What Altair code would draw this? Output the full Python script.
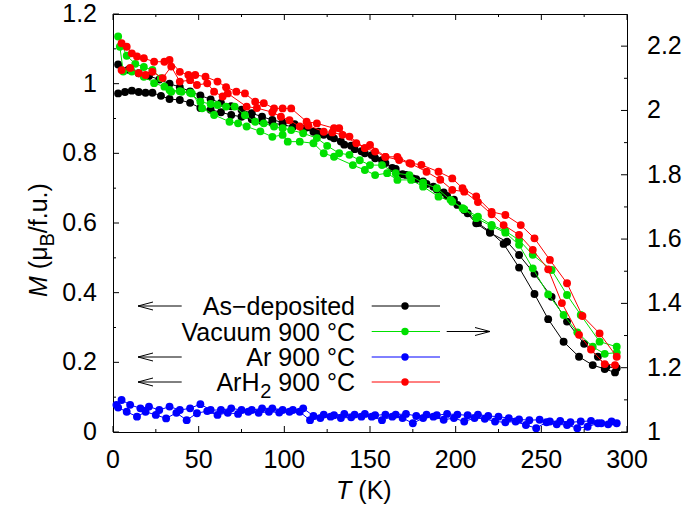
import altair as alt
import pandas as pd

FONT = "Liberation Sans"

SERIES = ["As\u2212deposited", "Vacuum 900 \u00b0C", "Ar 900 \u00b0C", "ArH2 900 \u00b0C"]
COLORS = ["#000000", "#00e000", "#0000ff", "#ff0000"]

# As-deposited (left axis, M in muB/f.u.), two sweeps
AS_A_T = [3, 7, 11, 15, 19, 23, 28, 33, 39, 45, 51, 57, 63, 69, 75, 81, 87, 93, 99, 105,
          111, 117, 123, 129, 135, 141, 147, 153, 159, 165, 171, 177, 183, 189, 195, 201,
          207, 213, 220, 228, 237, 246, 254, 263, 272, 280, 287, 293]
AS_A_M = [0.972, 0.976, 0.980, 0.976, 0.974, 0.974, 0.965, 0.956, 0.953, 0.945, 0.930,
          0.925, 0.918, 0.910, 0.905, 0.898, 0.892, 0.887, 0.882, 0.876, 0.870,
          0.862, 0.853, 0.843, 0.825, 0.812, 0.800, 0.786, 0.772, 0.755, 0.738,
          0.726, 0.712, 0.696, 0.678, 0.652, 0.628, 0.600, 0.575, 0.540, 0.472,
          0.396, 0.324, 0.259, 0.216, 0.192, 0.181, 0.171]
AS_B_T = [3, 9, 15, 21, 27, 33, 39, 45, 51, 57, 63, 69, 75, 81, 87, 93, 99, 106, 113, 120,
          127, 133, 139, 145, 151, 157, 163, 169, 175, 181, 187, 193, 199, 205, 212, 220,
          230, 237, 246, 256, 265, 275, 283, 288, 294]
AS_B_M = [1.055, 1.040, 1.030, 1.022, 1.012, 1.000, 0.990, 0.978, 0.966, 0.955,
          0.945, 0.935, 0.925, 0.915, 0.905, 0.896, 0.889, 0.884, 0.874, 0.862,
          0.848, 0.834, 0.822, 0.806, 0.795, 0.780, 0.758, 0.740, 0.728, 0.719,
          0.704, 0.688, 0.667, 0.637, 0.599, 0.572, 0.546, 0.508, 0.454, 0.388,
          0.317, 0.253, 0.216, 0.187, 0.184]

# Vacuum 900 C (right axis)
VAC_A_T = [3, 8, 13, 18, 23, 28, 33, 39, 45, 51, 57, 61, 66, 71, 77, 83, 88, 94, 99, 104,
           111, 119, 125, 132, 138, 144, 150, 157, 165, 173, 181, 189, 197, 205, 213, 221,
           229, 237, 245, 256, 265, 273, 284, 294]
VAC_A_R = [2.230, 2.170, 2.145, 2.135, 2.126, 2.100, 2.064, 2.060, 2.055, 2.027,
           2.020, 2.017, 2.012, 2.012, 1.985, 1.965, 1.960, 1.950, 1.945, 1.939,
           1.929, 1.914, 1.890, 1.867, 1.862, 1.845, 1.830, 1.830, 1.805, 1.799,
           1.775, 1.758, 1.722, 1.693, 1.670, 1.644, 1.625, 1.597, 1.551, 1.504,
           1.426, 1.364, 1.281, 1.265]
VAC_B_T = [4, 6, 11, 18, 24, 30, 34, 40, 46, 52, 59, 68, 73, 78, 86, 93, 99, 102, 109, 117,
           123, 129, 140, 147, 153, 160, 166, 174, 181, 190, 198, 204, 212, 221, 229, 237,
           245, 254, 263, 271, 280, 287, 294]
VAC_B_R = [2.198, 2.121, 2.121, 2.105, 2.085, 2.074, 2.058, 2.058, 2.053, 2.007,
           1.986, 1.965, 1.960, 1.950, 1.935, 1.918, 1.924, 1.903, 1.903, 1.898,
           1.867, 1.856, 1.830, 1.815, 1.799, 1.805, 1.784, 1.784, 1.763, 1.732,
           1.716, 1.696, 1.665, 1.640, 1.620, 1.582, 1.509, 1.428, 1.364, 1.310,
           1.265, 1.243, 1.247]

# Ar 900 C (left axis)
AR_A_T = [2, 5, 10, 16, 21, 27, 33, 39, 45, 51, 57, 63, 69, 75, 81, 87, 93, 99, 105, 111,
          117, 123, 129, 135, 141, 147, 153, 159, 165, 171, 177, 183, 189, 195, 201, 207,
          213, 219, 225, 231, 237, 243, 249, 255, 261, 267, 273, 279, 285, 291]
AR_A_M = [0.078, 0.092, 0.078, 0.068, 0.073, 0.063, 0.073, 0.063, 0.068, 0.080,
          0.063, 0.063, 0.068, 0.063, 0.063, 0.068, 0.068, 0.063, 0.063, 0.068,
          0.046, 0.050, 0.048, 0.052, 0.050, 0.052, 0.048, 0.050, 0.050, 0.052,
          0.046, 0.050, 0.048, 0.052, 0.050, 0.048, 0.050, 0.046, 0.044, 0.040,
          0.036, 0.034, 0.035, 0.030, 0.032, 0.028, 0.030, 0.032, 0.025, 0.030]
AR_B_T = [3, 8, 14, 19, 25, 31, 37, 43, 49, 55, 61, 67, 73, 79, 85, 91, 97, 103, 109, 115,
          121, 127, 133, 139, 145, 151, 157, 163, 169, 175, 181, 187, 193, 199, 205, 211,
          217, 223, 229, 235, 241, 247, 253, 259, 265, 271, 277, 283, 289, 294]
AR_B_M = [0.070, 0.058, 0.044, 0.058, 0.049, 0.039, 0.055, 0.034, 0.054, 0.060,
          0.049, 0.055, 0.052, 0.058, 0.055, 0.058, 0.056, 0.058, 0.058, 0.034,
          0.040, 0.044, 0.040, 0.042, 0.044, 0.044, 0.034, 0.044, 0.040, 0.025,
          0.040, 0.044, 0.035, 0.040, 0.030, 0.040, 0.038, 0.030, 0.028, 0.030,
          0.020, 0.011, 0.028, 0.022, 0.020, 0.011, 0.015, 0.025, 0.022, 0.025]

# ArH2 900 C (left axis)
ARH_A_T = [5, 8, 11, 14, 18, 24, 30, 33, 39, 44, 48, 54, 61, 66, 72, 77, 83, 88, 94, 99,
           104, 113, 119, 129, 132, 138, 147, 150, 159, 166, 173, 180, 190, 198, 204, 212,
           221, 229, 238, 246, 255, 265, 274, 284, 294]
ARH_A_M = [1.116, 1.106, 1.087, 1.078, 1.073, 1.063, 1.063, 1.068, 1.034, 1.025,
           1.025, 1.020, 1.006, 0.990, 0.977, 0.972, 0.948, 0.944, 0.929, 0.929,
           0.929, 0.891, 0.886, 0.872, 0.872, 0.848, 0.815, 0.824, 0.790, 0.790,
           0.772, 0.767, 0.747, 0.728, 0.700, 0.676, 0.632, 0.623, 0.594, 0.556,
           0.494, 0.427, 0.333, 0.283, 0.216]
ARH_B_T = [5, 10, 15, 19, 23, 29, 34, 39, 45, 49, 55, 59, 64, 67, 78, 84, 93, 98, 103, 109,
           114, 123, 128, 134, 142, 147, 153, 159, 167, 174, 183, 191, 198, 205, 213, 221,
           228, 237, 245, 254, 262, 272, 279, 287, 293]
ARH_B_M = [1.039, 1.045, 1.030, 1.025, 1.034, 1.016, 1.049, 1.006, 1.010, 0.996,
           1.001, 0.977, 0.963, 0.972, 0.934, 0.930, 0.918, 0.905, 0.895, 0.877,
           0.880, 0.862, 0.860, 0.853, 0.829, 0.815, 0.805, 0.790, 0.781, 0.770,
           0.747, 0.724, 0.695, 0.690, 0.660, 0.625, 0.594, 0.566, 0.523, 0.467,
           0.370, 0.279, 0.237, 0.195, 0.192]

X_MAJOR = [0, 50, 100, 150, 200, 250, 300]
X_MINOR = [25, 75, 125, 175, 225, 275]
YL_MAJOR = [0, 0.2, 0.4, 0.6, 0.8, 1.0, 1.2]
YL_MINOR = [0.1, 0.3, 0.5, 0.7, 0.9, 1.1]
YR_MAJOR = [1.0, 1.2, 1.4, 1.6, 1.8, 2.0, 2.2]
YR_MINOR = [1.1, 1.3, 1.5, 1.7, 1.9, 2.1]

W, H = 514, 418
MAJ, MIN = 6, 3
LABEL_SIZE = 25
PT = 62


def runs(name, pairs):
    rows = []
    for k, (ts, vs) in enumerate(pairs):
        for t, v in zip(ts, vs):
            rows.append({"T": t, "V": v, "series": name, "run": f"{name}-{k}"})
    return rows


df_g1 = pd.DataFrame(runs(SERIES[0], [(AS_A_T, AS_A_M), (AS_B_T, AS_B_M)])
                     + runs(SERIES[2], [(AR_A_T, AR_A_M), (AR_B_T, AR_B_M)]))
df_g2 = pd.DataFrame(runs(SERIES[1], [(VAC_A_T, VAC_A_R), (VAC_B_T, VAC_B_R)]))
df_g3 = pd.DataFrame(runs(SERIES[3], [(ARH_A_T, ARH_A_M), (ARH_B_T, ARH_B_M)]))

xs = alt.Scale(domain=[0, 300], nice=False, zero=False)
yl = alt.Scale(domain=[0, 1.2], nice=False, zero=False)
yr = alt.Scale(domain=[1.0, 2.3], nice=False, zero=False)
cs = alt.Scale(domain=SERIES, range=COLORS)


def data_layers(df, yscale):
    base = alt.Chart(df).encode(
        x=alt.X("T:Q", scale=xs, axis=None),
        y=alt.Y("V:Q", scale=yscale, axis=None),
        color=alt.Color("series:N", scale=cs, legend=None))
    lines = base.mark_line(strokeWidth=1).encode(detail="run:N")
    pts = base.mark_circle(size=PT, opacity=1)
    return [lines, pts]


def xticks(vals, length):
    d = pd.DataFrame({"v": vals})
    bot = alt.Chart(d).mark_rule(color="black", strokeWidth=1).encode(
        x=alt.X("v:Q", scale=xs, axis=None), y=alt.value(H), y2=alt.value(H - length))
    top = alt.Chart(d).mark_rule(color="black", strokeWidth=1).encode(
        x=alt.X("v:Q", scale=xs, axis=None), y=alt.value(0), y2=alt.value(length))
    return [bot, top]


def yticks(vals, length, scale, side):
    d = pd.DataFrame({"v": vals})
    x1, x2 = (0, length) if side == "left" else (W - length, W)
    return alt.Chart(d).mark_rule(color="black", strokeWidth=1).encode(
        y=alt.Y("v:Q", scale=scale, axis=None), x=alt.value(x1), x2=alt.value(x2))


def xlabels(vals):
    d = pd.DataFrame({"v": vals})
    return alt.Chart(d).mark_text(font=FONT, fontSize=LABEL_SIZE, color="black",
                                  align="center", baseline="alphabetic").encode(
        x=alt.X("v:Q", scale=xs, axis=None), y=alt.value(H + 36),
        text=alt.Text("v:Q", format="d"))


def ylabels(vals, scale, side):
    d = pd.DataFrame({"v": vals})
    if side == "left":
        mk = alt.Chart(d).mark_text(font=FONT, fontSize=LABEL_SIZE, color="black",
                                    align="right", baseline="middle")
        xv = -16
    else:
        mk = alt.Chart(d).mark_text(font=FONT, fontSize=LABEL_SIZE, color="black",
                                    align="left", baseline="middle")
        xv = W + 20
    return mk.encode(y=alt.Y("v:Q", scale=scale, axis=None), x=alt.value(xv),
                     text=alt.Text("v:Q", format="~g"))


g1 = alt.layer(*data_layers(df_g1, yl),
               yticks(YL_MAJOR, MAJ, yl, "left"), yticks(YL_MINOR, MIN, yl, "left"),
               ylabels(YL_MAJOR, yl, "left"),
               *xticks(X_MAJOR, MAJ), *xticks(X_MINOR, MIN), xlabels(X_MAJOR))
g2 = alt.layer(*data_layers(df_g2, yr),
               yticks(YR_MAJOR, MAJ, yr, "right"), yticks(YR_MINOR, MIN, yr, "right"),
               ylabels(YR_MAJOR, yr, "right"))
g3 = alt.layer(*data_layers(df_g3, yl))

DUMMY = pd.DataFrame({"d": [0]})


def txt(s, x, y, size=25, align="right", style="normal", angle=0, dx=0, dy=0):
    kw = dict(text=s, font=FONT, fontSize=size, align=align, baseline="alphabetic",
              fontStyle=style, color="black", dx=dx, dy=dy)
    if angle:
        kw["angle"] = angle
    return alt.Chart(DUMMY).mark_text(**kw).encode(x=alt.value(x), y=alt.value(y))


def seg(x1, y1, x2, y2, color="black"):
    return alt.Chart(DUMMY).mark_rule(color=color, strokeWidth=1).encode(
        x=alt.value(x1), x2=alt.value(x2), y=alt.value(y1), y2=alt.value(y2))


ROW_Y = [292, 317.5, 343, 368]
ARROWS = ["left", "right", "left", "left"]
decor = []
for i, (name, c, arr) in enumerate(zip(SERIES, COLORS, ARROWS)):
    y = ROW_Y[i]
    if i == 3:
        decor.append(txt("900 \u00b0C", 242, y + 9))
        decor.append(txt("2", 242, y + 9, size=20, dx=-83.6, dy=7))
        decor.append(txt("ArH", 242, y + 9, dx=-95.5))
    else:
        decor.append(txt(name, 242, y + 9))
    decor.append(seg(258.7, y, 327, y, c))
    decor.append(alt.Chart(DUMMY).mark_circle(size=55, color=c, opacity=1).encode(
        x=alt.value(292), y=alt.value(y)))
    if arr == "left":
        decor += [seg(25, y, 68.7, y), seg(25, y, 40, y - 4), seg(25, y, 40, y + 4)]
    else:
        decor += [seg(333.7, y, 377, y), seg(377, y, 362, y - 4), seg(377, y, 362, y + 4)]

# axis titles
YT_X, YT_Y = -66, 283
decor += [
    txt("M", YT_X, YT_Y, align="left", style="italic", angle=270),
    txt("(\u03bc", YT_X, YT_Y, align="left", angle=270, dx=27.8),
    txt("B", YT_X, YT_Y, size=20, align="left", angle=270, dx=50.5, dy=7),
    txt("/f.u.)", YT_X, YT_Y, align="left", angle=270, dx=63.8),
    txt("T", 223, 485, align="left", style="italic"),
    txt("(K)", 223, 485, align="left", dx=22.3),
]

chart = alt.layer(g1, g2, g3, *decor).resolve_scale(y="independent").properties(
    width=W, height=H,
    background="white",
    autosize=alt.AutoSizeParams(type="none"),
    padding={"left": 113, "top": 14, "right": 61, "bottom": 84},
).configure_view(stroke="black", strokeWidth=1)

chart.save("out.html", embed_options={"renderer": "svg", "actions": False})
